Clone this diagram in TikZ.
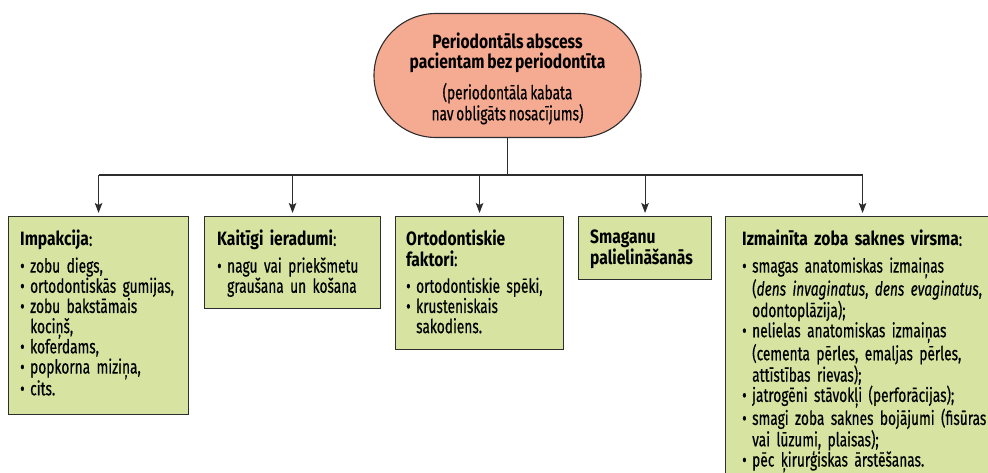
\documentclass[tikz,border=0pt]{standalone}
\usepackage{fontspec}
\setmainfont{Fira Sans}[
  UprightFeatures={FakeStretch=0.71, FakeBold=0.5},
  ItalicFeatures={FakeStretch=0.71, FakeBold=0.5},
  BoldFeatures={FakeStretch=0.81},
  WordSpace=0.75]
\usetikzlibrary{arrows.meta}

\definecolor{salmon}{RGB}{245,170,146}
\definecolor{leaf}{RGB}{215,228,161}
\definecolor{ink}{RGB}{45,45,45}

% bullet line, and a continuation line aligned with the bullet's text
\newcommand{\bul}[1]{\par\noindent\makebox[10pt][l]{•}#1}
\newcommand{\cont}[1]{\par\noindent\hspace*{10pt}#1}
% heading paragraph, followed by a little extra space
\newcommand{\head}[1]{\noindent\rule{0pt}{13pt}#1\par\vspace{6.5pt}}

\begin{document}
\begin{tikzpicture}[x=1pt,y=-1pt,
  rootbox/.style={draw=ink, line width=1.1pt, fill=salmon, minimum width=267,
    minimum height=124, rounded corners=62, inner sep=0},
  rootfont/.style={align=center, inner sep=0, font=\fontsize{19.3}{20.5}\selectfont},
  leafbox/.style={draw=ink, line width=1.1pt, fill=leaf, inner sep=0,
    anchor=north west},
  boxtext/.style={anchor=north west, inner sep=0, text width=300,
    align=left, font=\fontsize{19.3}{20.2}\selectfont\setlength\parskip{0pt}},
  wire/.style={draw=ink, line width=1.1pt},
  arr/.style={wire, -{Stealth[length=10pt,width=7.5pt,inset=2pt]}, shorten >=3pt}]

\useasboundingbox (0,0) rectangle (988,472);

% root node
\node[rootbox] (root) at (507.5,75.5) {};
\node[rootfont] (rootlabel) at (507.5,78.5)
  {\textbf{Periodontāls abscess}\\\textbf{pacientam bez periodontīta}\\[9pt]
   (periodontāla kabata\\[0.5pt]nav obligāts nosacījums)};

% cause boxes
\node[leafbox, minimum width=180, minimum height=198] (b1) at (8,216) {};
\node[leafbox, minimum width=176, minimum height=92]  (b2) at (204,216) {};
\node[leafbox, minimum width=168, minimum height=133] (b3) at (395,216) {};
\node[leafbox, minimum width=133, minimum height=63]  (b4) at (578,216) {};
\node[leafbox, minimum width=274, minimum height=270] (b5) at (725,216) {};

% box contents
\node[boxtext] (t1) at ([shift={(12,14)}]b1.north west) {%
  \head{\textbf{Impakcija}:}
  \bul{zobu diegs,}
  \bul{ortodontiskās gumijas,}
  \bul{zobu bakstāmais}
  \cont{kociņš,}
  \bul{koferdams,}
  \bul{popkorna miziņa,}
  \bul{cits.}};

\node[boxtext] (t2) at ([shift={(13,14)}]b2.north west) {%
  \head{\textbf{Kaitīgi ieradumi}:}
  \bul{nagu vai priekšmetu}
  \cont{graušana un košana}};

\node[boxtext] (t3) at ([shift={(11,14)}]b3.north west) {%
  \noindent\rule{0pt}{13pt}\textbf{Ortodontiskie}\par
  \head{\textbf{faktori}:}
  \bul{ortodontiskie spēki,}
  \bul{krusteniskais}
  \cont{sakodiens.}};

\node[boxtext] (t4) at ([shift={(12,14)}]b4.north west) {%
  \noindent\rule{0pt}{13pt}\textbf{Smaganu}\par
  \noindent\textbf{palielināšanās}};

\node[boxtext] (t5) at ([shift={(17,14)}]b5.north west) {%
  \head{\textbf{Izmainīta zoba saknes virsma}:}
  \bul{smagas anatomiskas izmaiņas}
  \cont{(\textit{dens invaginatus}, \textit{dens evaginatus},}
  \cont{odontoplāzija);}
  \bul{nelielas anatomiskas izmaiņas}
  \cont{(cementa pērles, emaljas pērles,}
  \cont{attīstības rievas);}
  \bul{jatrogēni stāvokļi (perforācijas);}
  \bul{smagi zoba saknes bojājumi (fisūras}
  \cont{vai lūzumi, plaisas);}
  \bul{pēc ķirurģiskas ārstēšanas.}};

% connectors
\coordinate (bus) at (507.5,175);
\draw[wire] (root.south) -- (root.south |- bus);
\draw[wire] (b1.north |- bus) -- (b5.north |- bus);
\foreach \b in {b1,b2,b3,b4,b5}
  \draw[arr] (\b.north |- bus) -- (\b.north);

\end{tikzpicture}
\end{document}
